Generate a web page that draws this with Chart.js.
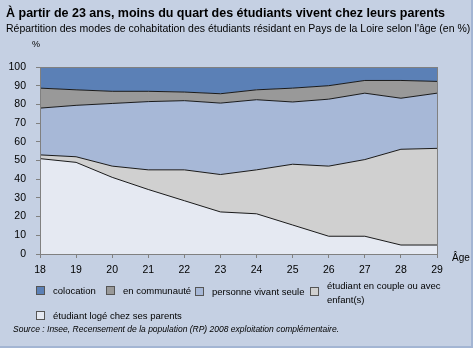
<!DOCTYPE html>
<html>
<head>
<meta charset="utf-8">
<script src="https://cdn.jsdelivr.net/npm/chart.js@4"></script>
<style>
  body { margin: 0; background: #fff; font-family: "Liberation Sans", Arial, sans-serif; }
  #panel { position: absolute; left: 0; top: 0; width: 471px; height: 346px; background: #c5d0e3;
           border-right: 2px solid #a3b5d3; border-bottom: 2px solid #a3b5d3; }
  #chart { position: absolute; left: 0; top: 0; }
  .txt { position: absolute; white-space: nowrap; color: #000; }
  .box { position: absolute; width: 7px; height: 7px; border: 1px solid #555; }
</style>
</head>
<body>
<div id="panel"></div>
<canvas id="chart" width="475" height="352"></canvas>

<div class="txt" style="left:6px;top:6px;font-size:12.5px;font-weight:bold;">À partir de 23 ans, moins du quart des étudiants vivent chez leurs parents</div>
<div class="txt" style="left:6px;top:22px;font-size:10.5px;">Répartition des modes de cohabitation des étudiants résidant en Pays de la Loire selon l'âge (en %)</div>
<div class="txt" style="left:32px;top:39px;font-size:9px;">%</div>
<div class="txt" style="left:452px;top:252px;font-size:10px;">Âge</div>
<div id="legend"></div>
<div class="txt" style="left:13px;top:324px;font-size:8.5px;font-style:italic;">Source : Insee, Recensement de la population (RP) 2008 exploitation complémentaire.</div>

<script>
const ages = ['18', '19', '20', '21', '22', '23', '24', '25', '26', '27', '28', '29'];
const yTicks = [0, 10, 20, 30, 40, 50, 60, 70, 80, 90, 100];

const parents = [51, 49, 41, 34.5, 28.5, 22.5, 21.5, 15.5, 9.5, 9.5, 4.8, 4.8];
const couple = [2, 3, 6, 10.5, 16.5, 20, 23.5, 32.5, 37.5, 41, 51.2, 51.7];
const seule = [25, 27.5, 33.5, 36.5, 37, 38.2, 37.5, 33.3, 35.8, 35.5, 27.3, 29.5];
const communaute = [10.7, 8.3, 6.5, 5.5, 4.6, 5, 5.3, 7.4, 7.2, 6.8, 9.5, 6.3];
const colocation = [11.3, 12.2, 13, 13, 13.4, 14.3, 12.2, 11.3, 10, 7.2, 7.2, 7.7];

const series = [
  { label: 'étudiant logé chez ses parents', data: parents, color: '#e5e9f2' },
  { label: 'étudiant en couple ou avec enfant(s)', data: couple, color: '#d0d0d0' },
  { label: 'personne vivant seule', data: seule, color: '#a7b8d7' },
  { label: 'en communauté', data: communaute, color: '#999999' },
  { label: 'colocation', data: colocation, color: '#5b80b6' }
];

// legend in html, laid out like the original
const legendPos = [
  { i: 4, bx: 36, by: 286, tx: 53, ty: 284 },
  { i: 3, bx: 106, by: 286, tx: 123, ty: 284 },
  { i: 2, bx: 195, by: 287, tx: 212, ty: 285 },
  { i: 1, bx: 310, by: 287, tx: 327, ty: 279, two: ['étudiant en couple ou avec', 'enfant(s)'] },
  { i: 0, bx: 36, by: 311, tx: 53, ty: 309 }
];
const legend = document.getElementById('legend');
legendPos.forEach(p => {
  const s = series[p.i];
  const b = document.createElement('div');
  b.className = 'box';
  b.style.left = p.bx + 'px';
  b.style.top = p.by + 'px';
  b.style.background = s.color;
  legend.appendChild(b);
  const t = document.createElement('div');
  t.className = 'txt';
  t.style.left = p.tx + 'px';
  t.style.top = p.ty + 'px';
  t.style.fontSize = '9.5px';
  t.style.lineHeight = '14px';
  t.innerHTML = p.two ? p.two.join('<br>') : s.label;
  legend.appendChild(t);
});

// frame round the plot area (top and right edges)
const frame = {
  id: 'frame',
  afterDatasetsDraw(chart) {
    const a = chart.chartArea, ctx = chart.ctx;
    ctx.save();
    ctx.strokeStyle = '#808080';
    ctx.lineWidth = 1;
    ctx.strokeRect(Math.round(a.left) + 0.5, Math.round(a.top) + 0.5, Math.round(a.right - a.left), Math.round(a.bottom - a.top));
    ctx.restore();
  }
};

new Chart(document.getElementById('chart'), {
  type: 'line',
  data: {
    labels: ages,
    datasets: series.map((s, k) => ({
      label: s.label,
      data: s.data,
      backgroundColor: s.color,
      borderColor: '#1a1a1a',
      borderWidth: 1,
      pointRadius: 0,
      tension: 0,
      fill: k === 0 ? 'origin' : '-1'
    }))
  },
  options: {
    responsive: false,
    animation: false,
    layout: { padding: { left: 0, top: 67, right: 38, bottom: 78 } },
    plugins: { legend: { display: false }, tooltip: { enabled: false } },
    scales: {
      x: {
        offset: false,
        grid: { drawOnChartArea: false, drawTicks: true, tickLength: 4, color: '#808080' },
        border: { color: '#808080' },
        ticks: { color: '#000', font: { size: 10.5, family: 'Liberation Sans' }, padding: 6, maxRotation: 0, autoSkip: false },
        afterFit: s => { s.height = 20; }
      },
      y: {
        stacked: true,
        min: 0,
        max: 100,
        afterBuildTicks: s => { s.ticks = yTicks.map(v => ({ value: v })); },
        grid: { drawOnChartArea: false, drawTicks: true, tickLength: 4, color: '#808080' },
        border: { color: '#808080' },
        ticks: { color: '#000', font: { size: 10.5, family: 'Liberation Sans' }, padding: 10 },
        afterFit: s => { s.width = 40; }
      }
    }
  },
  plugins: [frame]
});
</script>
</body>
</html>
